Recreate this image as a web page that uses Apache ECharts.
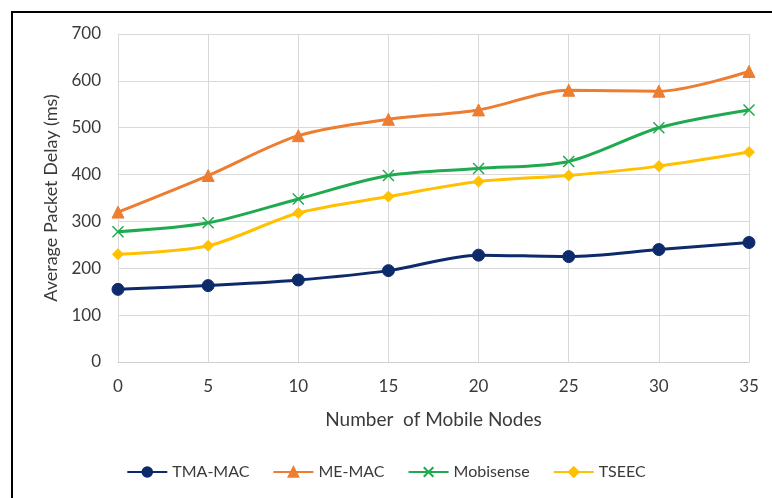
<!DOCTYPE html>
<html>
<head>
<meta charset="utf-8">
<script src="https://cdn.jsdelivr.net/npm/echarts@6/dist/echarts.min.js"></script>
<style>
  html, body { margin: 0; padding: 0; background: #fff; }
  #chart { width: 772px; height: 498px; }
</style>
</head>
<body>
<div id="chart"></div>
<script>
  // nodes on the x axis
  var nodes = ['0', '5', '10', '15', '20', '25', '30', '35'];

  // average packet delay (ms)
  var tmaMac = [155, 163, 175, 195, 228, 225, 240, 255];
  var meMac = [320, 398, 483, 518, 538, 580, 578, 620];
  var mobisense = [278, 297, 348, 398, 413, 428, 500, 538];
  var tseec = [230, 248, 318, 353, 385, 398, 418, 448];

  var font = 'Lato, "Open Sans", sans-serif';
  var textColor = '#3a3a3a';

  function line(name, data, color, symbol, size) {
    return {
      name: name,
      type: 'line',
      data: data,
      smooth: 0.3,
      symbol: symbol,
      symbolSize: size,
      lineStyle: { color: color, width: 3 },
      itemStyle: { color: color, borderColor: color, borderWidth: 1 },
      emphasis: { disabled: true }
    };
  }

  var cross = line('Mobisense', mobisense, '#1faa4f', 'path://M0,0L10,10M10,0L0,10', 11);
  cross.itemStyle = { color: 'none', borderColor: '#1faa4f', borderWidth: 1.5 };

  var option = {
    animation: false,
    textStyle: { fontFamily: font },
    graphic: [{
      type: 'rect',
      shape: { x: 12, y: 12, width: 800, height: 520 },
      style: { fill: 'none', stroke: '#000', lineWidth: 2 }
    }],
    grid: { left: 118, right: 23, top: 34, bottom: 136 },
    legend: {
      bottom: 13,
      left: 'center',
      itemWidth: 40,
      itemHeight: 12,
      itemGap: 23,
      textStyle: { fontSize: 16, color: textColor, fontFamily: font },
      data: ['TMA-MAC', 'ME-MAC', 'Mobisense', 'TSEEC']
    },
    xAxis: {
      type: 'category',
      data: nodes,
      boundaryGap: false,
      name: 'Number  of Mobile Nodes',
      nameLocation: 'middle',
      nameGap: 48,
      nameTextStyle: { fontSize: 19, color: textColor },
      axisLine: { lineStyle: { color: '#d0d0d0' } },
      axisTick: { show: false },
      axisLabel: { fontSize: 17, color: textColor, margin: 16 },
      splitLine: { show: true, lineStyle: { color: '#d9d9d9' } }
    },
    yAxis: {
      type: 'value',
      min: 0,
      max: 700,
      interval: 100,
      name: 'Average Packet Delay (ms)',
      nameLocation: 'middle',
      nameGap: 55,
      nameTextStyle: { fontSize: 18, color: textColor },
      axisLine: { show: false },
      axisTick: { show: false },
      axisLabel: { fontSize: 17, color: textColor, margin: 17 },
      splitLine: { lineStyle: { color: '#d9d9d9' } }
    },
    series: [
      line('TMA-MAC', tmaMac, '#0d2a6b', 'circle', 12),
      line('ME-MAC', meMac, '#ed7d31', 'triangle', 12),
      cross,
      line('TSEEC', tseec, '#ffc000', 'diamond', 11)
    ]
  };

  echarts.init(document.getElementById('chart')).setOption(option);
</script>
</body>
</html>
